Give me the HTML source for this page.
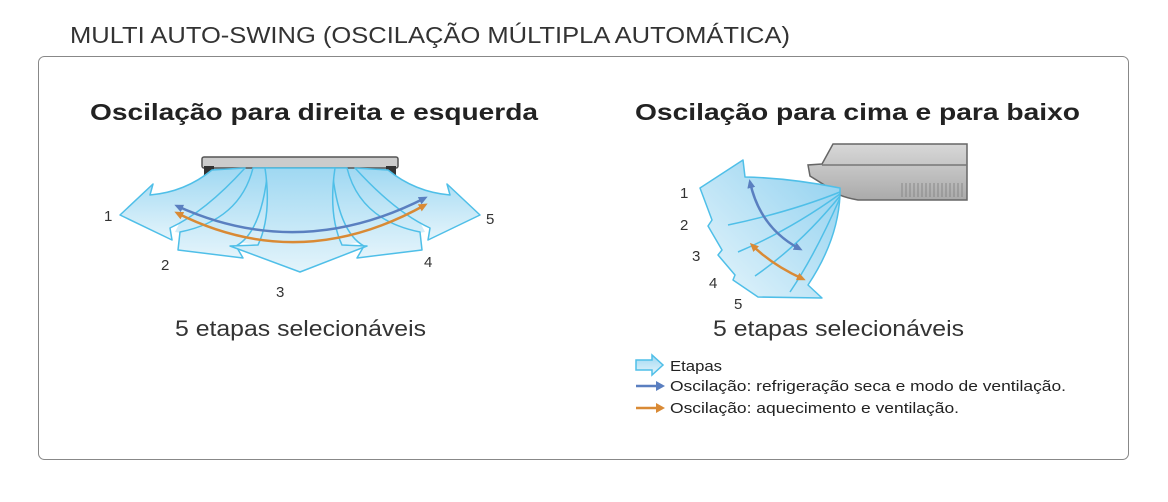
<!DOCTYPE html>
<html><head><meta charset="utf-8"><style>
html,body{margin:0;padding:0;background:#fff;width:1168px;height:502px;overflow:hidden}
text{font-family:"Liberation Sans",sans-serif}
</style></head><body>
<svg width="1168" height="502" viewBox="0 0 1168 502" xmlns="http://www.w3.org/2000/svg">
<defs>
<linearGradient id="g" x1="0" y1="0" x2="0" y2="1"><stop offset="0" stop-color="#9fd8f2"/><stop offset="1" stop-color="#e4f4fb"/></linearGradient>
<linearGradient id="g2" x1="1" y1="0" x2="0" y2="1"><stop offset="0" stop-color="#8fd0ef"/><stop offset="1" stop-color="#e8f6fc"/></linearGradient>
<linearGradient id="gu" x1="0" y1="0" x2="0" y2="1"><stop offset="0" stop-color="#d8d8d8"/><stop offset="1" stop-color="#aaa"/></linearGradient>
<marker id="mb" markerUnits="userSpaceOnUse" markerWidth="9" markerHeight="8" refX="6" refY="4" orient="auto-start-reverse"><path d="M0,0 L9,4 L0,8 Z" fill="#5a7fc0"/></marker>
<marker id="mo" markerUnits="userSpaceOnUse" markerWidth="9" markerHeight="8" refX="6" refY="4" orient="auto-start-reverse"><path d="M0,0 L9,4 L0,8 Z" fill="#d98a35"/></marker>
</defs>
<text x="70" y="43" font-size="23" fill="#333" textLength="720" lengthAdjust="spacingAndGlyphs">MULTI AUTO-SWING (OSCILAÇÃO MÚLTIPLA AUTOMÁTICA)</text>
<rect x="38.5" y="56.5" width="1090" height="403" rx="6" fill="#fff" stroke="#888" stroke-width="1"/>
<text x="90" y="120" font-size="23" font-weight="bold" fill="#222" textLength="448" lengthAdjust="spacingAndGlyphs">Oscilação para direita e esquerda</text>
<text x="635" y="120" font-size="23" font-weight="bold" fill="#222" textLength="445" lengthAdjust="spacingAndGlyphs">Oscilação para cima e para baixo</text>

<!-- left unit -->
<path d="M207,168 L393,168 L425,232 L300,252 L175,232 Z" fill="url(#g)"/>
<rect x="202" y="157" width="196" height="11" rx="2" fill="#ccc" stroke="#555" stroke-width="1.5"/>
<rect x="204" y="166" width="10" height="10" fill="#333"/><rect x="386" y="166" width="10" height="10" fill="#333"/>
<g fill="url(#g)" stroke="#4fbfe8" stroke-width="1.5" stroke-linejoin="round">
<path d="M212,170 Q185,192 150,195 L153,184 L120,215 L172,240 L170,228 Q205,212 245,168 Z"/>
<path d="M388,170 Q415,192 450,195 L447,184 L480,215 L428,240 L430,228 Q395,212 355,168 Z"/>
<path d="M253,168 Q240,220 180,232 L178,250 L243,258 L236,246 Q262,232 268,168 Z"/>
<path d="M347,168 Q360,220 420,232 L422,250 L357,258 L364,246 Q338,232 332,168 Z"/>
<path d="M265,168 Q272,215 258,245 L230,246 L300,272 L367,246 L342,245 Q328,215 335,168 Z"/>
</g>
<path d="M177,206 Q300,262 425,198" fill="none" stroke="#5a7fc0" stroke-width="2.5" marker-start="url(#mb)" marker-end="url(#mb)"/>
<path d="M177,213 Q300,275 425,205" fill="none" stroke="#d98a35" stroke-width="2.5" marker-start="url(#mo)" marker-end="url(#mo)"/>
<g font-size="15" fill="#333"><text x="104" y="221">1</text><text x="161" y="270">2</text><text x="276" y="297">3</text><text x="424" y="267">4</text><text x="486" y="224">5</text></g>
<text x="175" y="336" font-size="22" fill="#333" textLength="251" lengthAdjust="spacingAndGlyphs">5 etapas selecionáveis</text>

<!-- right unit -->
<path d="M833,144 L967,144 L967,200 L858,200 Q835,196 826,186 L810,176 L808,165 L822,164 Z" fill="url(#gu)" stroke="#666" stroke-width="1.5"/>
<path d="M822,165 L967,165" stroke="#777" stroke-width="1.5"/>
<g stroke="#888" stroke-width="1"><path d="M902,183V197M906,183V197M910,183V197M914,183V197M918,183V197M922,183V197M926,183V197M930,183V197M934,183V197M938,183V197M942,183V197M946,183V197M950,183V197M954,183V197M958,183V197M962,183V197"/></g>
<g fill="url(#g2)" stroke="#4fbfe8" stroke-width="1.5" stroke-linejoin="round">
<path d="M840,188 Q790,178 745,177 L743,160 L700,188 L712,220 L708,226 L722,250 L718,255 L735,275 L733,280 L758,297 L822,298 L808,285 Q838,240 840,195 Z"/>
<path d="M840,192 Q790,212 728,225" fill="none"/>
<path d="M840,194 Q790,230 738,252" fill="none"/>
<path d="M840,196 Q800,245 755,276" fill="none"/>
<path d="M840,198 Q815,255 790,292" fill="none"/>
</g>
<path d="M750,182 Q760,228 800,249" fill="none" stroke="#5a7fc0" stroke-width="2.5" marker-start="url(#mb)" marker-end="url(#mb)"/>
<path d="M752,245 Q772,265 803,279" fill="none" stroke="#d98a35" stroke-width="2.5" marker-start="url(#mo)" marker-end="url(#mo)"/>
<g font-size="15" fill="#333"><text x="680" y="198">1</text><text x="680" y="230">2</text><text x="692" y="261">3</text><text x="709" y="288">4</text><text x="734" y="309">5</text></g>
<text x="713" y="336" font-size="22" fill="#333" textLength="251" lengthAdjust="spacingAndGlyphs">5 etapas selecionáveis</text>

<!-- legend -->
<path d="M636,360 L652,360 L652,355 L663,365 L652,375 L652,370 L636,370 Z" fill="url(#g)" stroke="#4fbfe8" stroke-width="1.5"/>
<text x="670" y="371" font-size="15" fill="#222" textLength="52" lengthAdjust="spacingAndGlyphs">Etapas</text>
<path d="M636,386 L658,386" stroke="#5a7fc0" stroke-width="2.5"/><path d="M656,381 L665,386 L656,391 Z" fill="#5a7fc0"/>
<text x="670" y="391" font-size="15" fill="#222" textLength="396" lengthAdjust="spacingAndGlyphs">Oscilação: refrigeração seca e modo de ventilação.</text>
<path d="M636,408 L658,408" stroke="#d98a35" stroke-width="2.5"/><path d="M656,403 L665,408 L656,413 Z" fill="#d98a35"/>
<text x="670" y="413" font-size="15" fill="#222" textLength="289" lengthAdjust="spacingAndGlyphs">Oscilação: aquecimento e ventilação.</text>
</svg>
</body></html>
